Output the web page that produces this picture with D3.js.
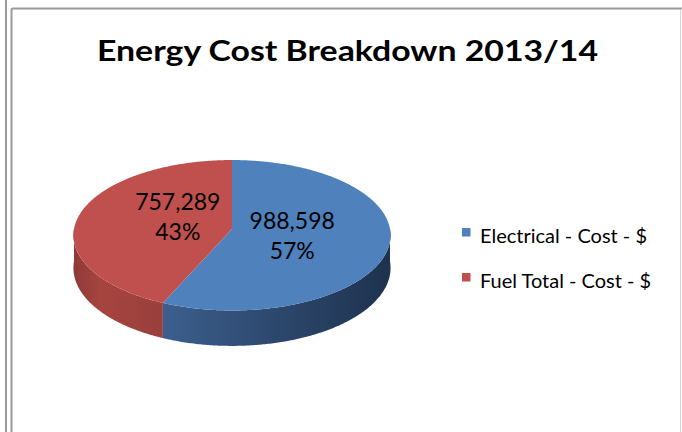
<!DOCTYPE html>
<html>
<head>
<meta charset="utf-8">
<script src="https://cdn.jsdelivr.net/npm/d3@7"></script>
<style>
  html, body { margin: 0; padding: 0; background: #fff; }
  svg { display: block; }
  text { font-family: Lato, "Open Sans", sans-serif; }
</style>
</head>
<body>
<script>
// Chart data
const title = "Energy Cost Breakdown 2013/14";
const categories = ["Electrical - Cost - $", "Fuel Total - Cost - $"];
const values = [988598, 757289];
const topColors = ["#4F81BD", "#C0504D"];

const W = 682, H = 432;
const svg = d3.select("body").append("svg").attr("width", W).attr("height", H);

// Frame lines
svg.append("line").attr("x1", 6).attr("x2", 6).attr("y1", 0).attr("y2", H)
  .attr("stroke", "#9a9a9a").attr("stroke-width", 2);
svg.append("path")
  .attr("d", `M11.5,${H} L11.5,10 Q11.5,8.5 13,8.5 L${W},8.5`)
  .attr("fill", "none").attr("stroke", "#9a9a9a").attr("stroke-width", 2);
svg.append("line").attr("x1", 680.5).attr("x2", 680.5).attr("y1", 9.5).attr("y2", H)
  .attr("stroke", "#d4d4d4").attr("stroke-width", 1);

// Title
svg.append("text")
  .attr("x", 347.5).attr("y", 60.5)
  .attr("text-anchor", "middle")
  .attr("font-weight", "bold")
  .attr("font-size", 29)
  .attr("fill", "#000")
  .attr("textLength", 501).attr("lengthAdjust", "spacingAndGlyphs")
  .text(title);

// 3D pie seen in perspective: a tilted disc, the near edge drawn larger
const cx = 232, cy = 229;       // projected centre of the top face
const persp = 0.083;            // perspective strength
const A = 158, B = 74.7;        // horizontal / vertical projected radii
const thick = 32.5;             // disc thickness
function pt(a, h, r = 1) {
  const s = 1 + persp * r * Math.cos(a);
  return [cx + A * r * Math.sin(a) / s, cy - B * r * Math.cos(a) / s + h / s];
}

const pie = d3.pie().sort(null).value(d => d)(values);
const total = d3.sum(values);
const line = d3.line();

function arcPoints(a0, a1, h) {
  const n = Math.max(2, Math.ceil(Math.abs(a1 - a0) / 0.01));
  return d3.range(n + 1).map(i => pt(a0 + (a1 - a0) * i / n, h));
}

const defs = svg.append("defs");
// Side shading gradients
const sideStops = [
  [[0, "#3C5F8E"], [0.45, "#2E4A70"], [1, "#1E324E"]],
  [[0, "#8E3A38"], [0.3, "#A6443F"], [1, "#9A3F3C"]]
];
const frontRange = p => [Math.max(p.startAngle, Math.PI / 2), Math.min(p.endAngle, 3 * Math.PI / 2)];

pie.forEach((p, i) => {
  const [a0, a1] = frontRange(p);
  if (a1 <= a0) return;
  const xs = arcPoints(a0, a1, 0).map(d => d[0]);
  const g = defs.append("linearGradient").attr("id", "side" + i)
    .attr("gradientUnits", "userSpaceOnUse")
    .attr("x1", d3.min(xs)).attr("x2", d3.max(xs)).attr("y1", 0).attr("y2", 0);
  sideStops[i].forEach(s => g.append("stop").attr("offset", s[0]).attr("stop-color", s[1]));
});

// Visible side walls (front half of the disc)
pie.forEach((p, i) => {
  const [a0, a1] = frontRange(p);
  if (a1 <= a0) return;
  const pts = arcPoints(a0, a1, 0).concat(arcPoints(a1, a0, thick));
  svg.append("path").attr("d", line(pts) + "Z")
    .attr("fill", `url(#side${i})`);
});

// Top faces
pie.forEach((p, i) => {
  const pts = [pt(0, 0, 0)].concat(arcPoints(p.startAngle, p.endAngle, 0));
  svg.append("path").attr("d", line(pts) + "Z").attr("fill", topColors[i]);
});

// Data labels: value and percentage
const fmt = d3.format(",");
const pct = d3.format(".0%");
pie.forEach((p, i) => {
  const mid = (p.startAngle + p.endAngle) / 2;
  const lx = cx + A * 0.37 * Math.sin(mid) + 3;
  const ly = cy - B * 0.645 * Math.cos(mid) - 5.5;
  const t = svg.append("text").attr("text-anchor", "middle")
    .attr("font-size", 23).attr("fill", "#000");
  t.append("tspan").attr("x", lx).attr("y", ly - 4).text(fmt(values[i]));
  t.append("tspan").attr("x", lx).attr("y", ly + 26).text(pct(values[i] / total));
});

// Legend
const legend = svg.append("g");
categories.forEach((c, i) => {
  const y = 228 + i * 45;
  legend.append("rect").attr("x", 462).attr("y", y).attr("width", 8.5).attr("height", 8.5)
    .attr("fill", topColors[i]);
  legend.append("text").attr("x", 480).attr("y", y + 14.5)
    .attr("font-size", 20).attr("fill", "#000").text(c);
});
</script>
</body>
</html>
